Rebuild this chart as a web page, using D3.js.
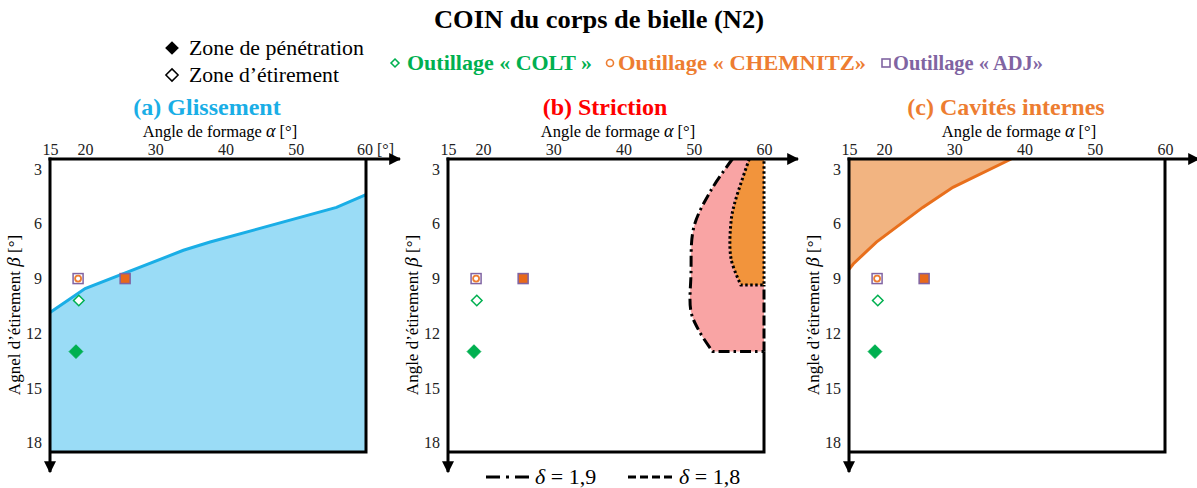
<!DOCTYPE html>
<html><head><meta charset="utf-8">
<script src="https://cdn.jsdelivr.net/npm/d3@7"></script>
<style>
html,body{margin:0;padding:0;background:#fff;}
svg{display:block;font-family:"Liberation Serif","DejaVu Serif",serif;}
</style></head>
<body><svg id="chart" width="1197" height="488"></svg>
<script>
// ---------- DATA ----------
const alphaTicks = [15, 20, 30, 40, 50, 60];
const betaTicks = [3, 6, 9, 12, 15, 18];
const alphaDomain = [15, 60];
const betaDomain = [2.45, 18.5];

// (a) Glissement boundary (alpha, beta)
const glissementAlpha = [15, 20, 34, 37.8, 55.8, 60];
const glissementBeta  = [10.86, 9.55, 7.45, 7.0, 5.1, 4.4];

// (b) Striction: delta = 1.9 boundary
const striction19Alpha = [55.5, 52.4, 50.0, 49.6, 49.6, 50.8, 52.7, 60];
const striction19Beta  = [2.45, 4.2, 6.2, 8.8, 10.8, 11.9, 13.0, 13.0];
// (b) Striction: delta = 1.8 boundary
const striction18Alpha = [57.9, 55.8, 55.3, 55.3, 56.7, 60];
const striction18Beta  = [2.45, 4.9, 5.9, 7.9, 9.35, 9.35];

// (c) Cavités internes boundary
const cavitesAlpha = [38.1, 29.8, 25.5, 18.9, 15.6, 15];
const cavitesBeta  = [2.45, 4.0, 5.1, 7.0, 8.2, 8.5];

// Tool points : [alpha, beta, zone]
const coltPoints     = [[19.1, 10.2, "etirement"], [18.7, 13.0, "penetration"]];
const chemnitzPoints = [[19.0, 9.0, "etirement"], [25.7, 9.0, "penetration"]];
const adjPoints      = [[19.0, 9.0, "etirement"], [25.7, 9.0, "penetration"]];

const panelTitles = ["(a) Glissement", "(b) Striction", "(c) Cavités internes"];
const yTitles = ["Agnel d’étirement ", "Angle d’étirement ", "Angle d’étirement "];
const toolLabels = ["Outillage « COLT »", "Outillage « CHEMNITZ»", "Outillage « ADJ»"];
const zoneLabels = ["Zone de pénétration", "Zone d’étirement"];
const deltaLabels = ["1,9", "1,8"];

// ---------- STYLE / LAYOUT ----------
const C = {
  green: "#00b050", orange: "#ed7d31", purple: "#8064a2",
  blue: "#1aaee6", blueFill: "#9adcf6", red: "#ff0000",
  pink: "#f9a4a4", orangeFill: "#f2943c", cavFill: "#f2b481", cavLine: "#e86f1c"
};
const SERIF = "'Liberation Serif', serif";
const svg = d3.select("#chart");
const defs = svg.append("defs");
defs.append("marker").attr("id", "arr").attr("viewBox", "0 0 10 10")
  .attr("refX", 9).attr("refY", 5).attr("markerWidth", 4).attr("markerHeight", 4)
  .attr("markerUnits", "strokeWidth").attr("orient", "auto")
  .append("path").attr("d", "M0,0 L10,5 L0,10 z").attr("fill", "#000");

const panelX0 = [50, 448, 849];
const plotW = 316;
const yTop = 159, yBot = 452;

// Title
svg.append("text").attr("x", 434).attr("y", 28).attr("font-family", SERIF)
  .attr("font-size", 25).attr("font-weight", "bold")
  .attr("textLength", 330).attr("lengthAdjust", "spacingAndGlyphs")
  .text("COIN du corps de bielle (N2)");

// Legend: zone
const sym = d3.symbol();
svg.append("path").attr("d", sym.type(d3.symbolDiamond2).size(120)())
  .attr("transform", "translate(172,48)").attr("fill", "#000");
svg.append("text").attr("x", 189).attr("y", 55).attr("font-size", 22).attr("font-family", SERIF)
  .attr("textLength", 175).attr("lengthAdjust", "spacingAndGlyphs").text(zoneLabels[0]);
svg.append("path").attr("d", sym.type(d3.symbolDiamond2).size(95)())
  .attr("transform", "translate(172,75)").attr("fill", "none").attr("stroke", "#000").attr("stroke-width", 1.5);
svg.append("text").attr("x", 189).attr("y", 82).attr("font-size", 22).attr("font-family", SERIF)
  .attr("textLength", 150).attr("lengthAdjust", "spacingAndGlyphs").text(zoneLabels[1]);

// Legend: tools
const toolLegend = [
  {x: 395, tx: 407, len: 185, color: C.green, shape: "diamond"},
  {x: 610, tx: 618, len: 248, color: C.orange, shape: "circle"},
  {x: 886, tx: 893, len: 150, color: C.purple, shape: "square"}
];
toolLegend.forEach((t, i) => {
  const g = svg.append("g");
  if (t.shape === "diamond") g.append("path").attr("d", sym.type(d3.symbolDiamond2).size(40)())
    .attr("transform", `translate(${t.x},63)`).attr("fill", "none").attr("stroke", t.color).attr("stroke-width", 1.6);
  if (t.shape === "circle") g.append("circle").attr("cx", t.x).attr("cy", 63).attr("r", 3.5)
    .attr("fill", "none").attr("stroke", t.color).attr("stroke-width", 1.6);
  if (t.shape === "square") g.append("rect").attr("x", t.x - 4).attr("y", 59).attr("width", 8).attr("height", 8)
    .attr("fill", "none").attr("stroke", t.color).attr("stroke-width", 1.6);
  g.append("text").attr("x", t.tx).attr("y", 70).attr("font-size", 22).attr("font-weight", "bold")
    .attr("font-family", SERIF).attr("textLength", t.len).attr("lengthAdjust", "spacingAndGlyphs")
    .attr("fill", t.color).text(toolLabels[i]);
});

const y = d3.scaleLinear().domain(betaDomain).range([yTop, yBot]);
const zip = (a, b) => a.map((v, i) => [v, b[i]]);

panelX0.forEach((x0, pi) => {
  const x = d3.scaleLinear().domain(alphaDomain).range([x0, x0 + plotW]);
  const g = svg.append("g");
  const line = d3.line().x(d => x(d[0])).y(d => y(d[1]));
  const curve = d3.line().x(d => x(d[0])).y(d => y(d[1])).curve(d3.curveCatmullRom.alpha(0.5));

  // Panel title
  g.append("text").attr("x", x0 + 157).attr("y", 115).attr("text-anchor", "middle")
    .attr("font-size", 24).attr("font-weight", "bold").attr("font-family", SERIF)
    .attr("fill", [C.blue, C.red, C.orange][pi]).text(panelTitles[pi]);
  // X axis title
  const xt = g.append("text").attr("x", x0 + 170).attr("y", 137).attr("text-anchor", "middle")
    .attr("font-size", 16.5).attr("font-family", SERIF);
  xt.append("tspan").text("Angle de formage ");
  xt.append("tspan").attr("font-style", "italic").attr("font-size", 18).text("α");
  xt.append("tspan").text(pi === 0 ? "  [°]" : " [°]");
  // Y axis title
  const yt = g.append("text").attr("transform", `translate(${x0 - 30},315) rotate(-90)`)
    .attr("text-anchor", "middle").attr("font-size", 17).attr("font-family", SERIF);
  yt.append("tspan").text(yTitles[pi]);
  yt.append("tspan").attr("font-style", "italic").attr("font-size", 19).text("β");
  yt.append("tspan").text(" [°]");

  // Regions
  if (pi === 0) {
    const pts = zip(glissementAlpha, glissementBeta);
    const poly = pts.concat([[60, betaDomain[1]], [15, betaDomain[1]]]);
    g.append("path").attr("d", line(poly) + "Z").attr("fill", C.blueFill);
    g.append("path").attr("d", line(pts)).attr("fill", "none").attr("stroke", C.blue).attr("stroke-width", 3);
  }
  if (pi === 1) {
    const p19 = zip(striction19Alpha, striction19Beta);
    const curved19 = p19.slice(0, 7);
    const outerD = curve(curved19) + "L" + x(60) + "," + y(13) + "L" + x(60) + "," + y(betaDomain[0]) + "Z";
    g.append("path").attr("d", outerD).attr("fill", C.pink);
    const p18 = zip(striction18Alpha, striction18Beta);
    const curved18 = p18.slice(0, 5);
    const innerD = curve(curved18) + "L" + x(60) + "," + y(9.35) + "L" + x(60) + "," + y(betaDomain[0]) + "Z";
    g.append("path").attr("d", innerD).attr("fill", C.orangeFill);
    g.append("path").attr("d", curve(curved19) + "L" + x(60) + "," + y(13))
      .attr("fill", "none").attr("stroke", "#000").attr("stroke-width", 3).attr("stroke-dasharray", "11,4,2.5,4");
    g.append("path").attr("d", line([[60, 13], [60, 9.35]]))
      .attr("fill", "none").attr("stroke", "#000").attr("stroke-width", 3).attr("stroke-dasharray", "10,3");
    g.append("path").attr("d", curve(curved18) + "L" + x(60) + "," + y(9.35) + "L" + x(60) + "," + y(betaDomain[0]))
      .attr("fill", "none").attr("stroke", "#000").attr("stroke-width", 3).attr("stroke-dasharray", "2.5,2.5");
  }
  if (pi === 2) {
    const pts = zip(cavitesAlpha, cavitesBeta);
    g.append("path").attr("d", line(pts.concat([[15, betaDomain[0]]])) + "Z").attr("fill", C.cavFill);
    g.append("path").attr("d", line(pts)).attr("fill", "none").attr("stroke", C.cavLine).attr("stroke-width", 3);
  }

  // Box (right and bottom)
  const rightTop = pi === 1 ? 13 : betaDomain[0];
  g.append("path").attr("d", line([[60, rightTop], [60, betaDomain[1]], [15, betaDomain[1]]]))
    .attr("fill", "none").attr("stroke", "#000").attr("stroke-width", 3);

  // Axes (library axes for labels)
  const xAxis = d3.axisTop(x).tickValues(alphaTicks).tickSize(0).tickPadding(0)
    .tickFormat(d => (pi === 0 && d === 60) ? "60 [°]" : d);
  const gx = g.append("g").attr("transform", `translate(0,${yTop - 4})`).call(xAxis);
  gx.select(".domain").remove();
  gx.selectAll("text").attr("font-size", 16).attr("font-family", SERIF).attr("fill", "#222");
  if (pi === 0) gx.selectAll("text").filter(d => d === 60).attr("dx", 9);

  const yAxis = d3.axisLeft(y).tickValues(betaTicks).tickSize(0).tickPadding(8);
  const gy = g.append("g").attr("transform", `translate(${x0},0)`).call(yAxis);
  gy.select(".domain").remove();
  gy.selectAll("text").attr("font-size", 16).attr("font-family", SERIF).attr("fill", "#222");

  // Arrowed axis lines
  g.append("line").attr("x1", x0 - 1.5).attr("y1", yTop).attr("x2", x0 + 350).attr("y2", yTop)
    .attr("stroke", "#000").attr("stroke-width", 3).attr("marker-end", "url(#arr)");
  g.append("line").attr("x1", x0).attr("y1", yTop - 1.5).attr("x2", x0).attr("y2", 472)
    .attr("stroke", "#000").attr("stroke-width", 3).attr("marker-end", "url(#arr)");

  // Points
  coltPoints.forEach(p => {
    const filled = p[2] === "penetration";
    g.append("path").attr("d", sym.type(d3.symbolDiamond2).size(filled ? 120 : 70)())
      .attr("transform", `translate(${x(p[0])},${y(p[1])})`)
      .attr("fill", filled ? C.green : "#fff").attr("stroke", C.green).attr("stroke-width", filled ? 1 : 1.5);
  });
  adjPoints.forEach(p => {
    const filled = p[2] === "penetration";
    g.append("rect").attr("x", x(p[0]) - 5).attr("y", y(p[1]) - 5).attr("width", 10).attr("height", 10)
      .attr("fill", filled ? C.purple : "#fff").attr("stroke", C.purple).attr("stroke-width", 1.5);
  });
  chemnitzPoints.forEach(p => {
    const filled = p[2] === "penetration";
    if (filled) {
      g.append("rect").attr("x", x(p[0]) - 4.2).attr("y", y(p[1]) - 4.2).attr("width", 8.4).attr("height", 8.4)
        .attr("fill", "#e8691a");
    } else {
      g.append("circle").attr("cx", x(p[0])).attr("cy", y(p[1])).attr("r", 3)
        .attr("fill", "#fff").attr("stroke", C.orange).attr("stroke-width", 1.8);
    }
  });
});

// Bottom legend (striction)
const lg = svg.append("g");
lg.append("line").attr("x1", 486).attr("x2", 533).attr("y1", 477).attr("y2", 477)
  .attr("stroke", "#000").attr("stroke-width", 3).attr("stroke-dasharray", "14,6,3,6");
const t19 = lg.append("text").attr("x", 535).attr("y", 484).attr("font-size", 22).attr("font-family", SERIF);
t19.append("tspan").attr("font-style", "italic").text("δ");
t19.append("tspan").text(" = " + deltaLabels[0]);
lg.append("line").attr("x1", 628).attr("x2", 672).attr("y1", 477).attr("y2", 477)
  .attr("stroke", "#000").attr("stroke-width", 3).attr("stroke-dasharray", "8,4");
const t18 = lg.append("text").attr("x", 679).attr("y", 484).attr("font-size", 22).attr("font-family", SERIF);
t18.append("tspan").attr("font-style", "italic").text("δ");
t18.append("tspan").text(" = " + deltaLabels[1]);
</script></body></html>
